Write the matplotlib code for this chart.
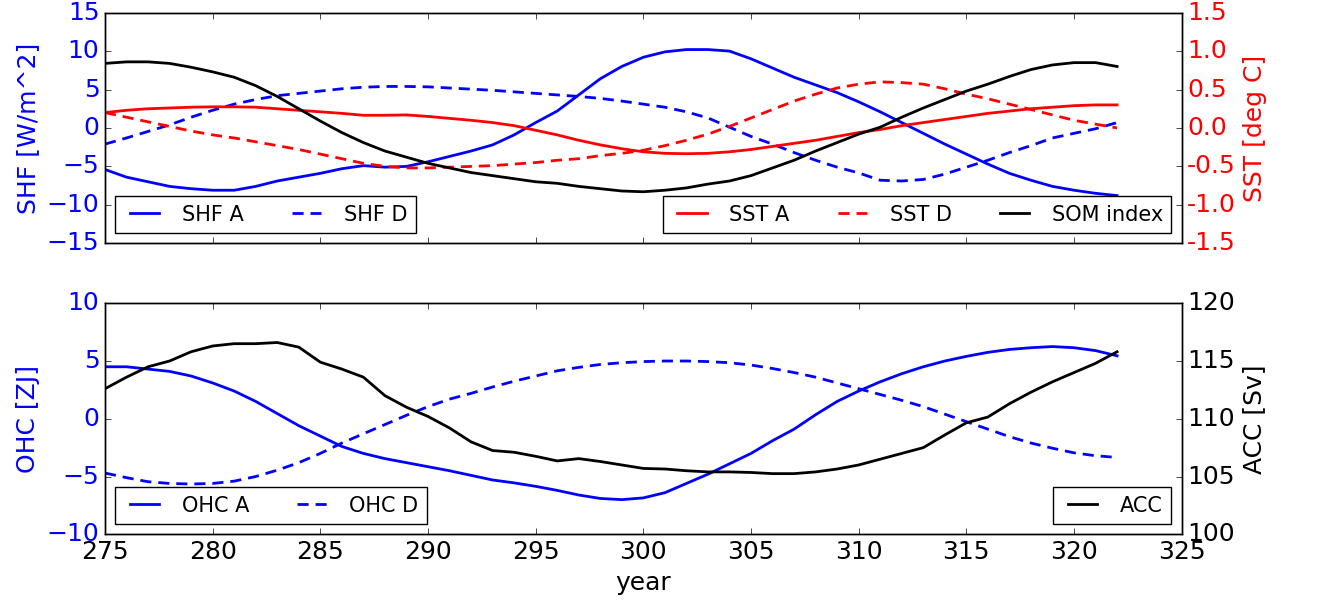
import numpy as np
import matplotlib
matplotlib.use('Agg')
from matplotlib import pyplot as plt

years = np.arange(275, 323)

# top panel: surface heat flux (left axis) and SST / SOM index (right axis)
shf_a = [-5.4, -6.4, -7.0, -7.6, -7.9, -8.1, -8.1, -7.6, -6.9, -6.4,
         -5.9, -5.3, -4.9, -5.1, -5.0, -4.4, -3.7, -3.0, -2.2, -0.9,
         0.7, 2.2, 4.3, 6.4, 8.0, 9.2, 9.9, 10.2, 10.2, 10.0,
         9.0, 7.8, 6.6, 5.6, 4.6, 3.4, 2.1, 0.7, -0.7, -2.1,
         -3.4, -4.7, -5.9, -6.8, -7.6, -8.1, -8.5, -8.8]
shf_d = [-2.1, -1.3, -0.45, 0.4, 1.4, 2.3, 3.1, 3.7, 4.2, 4.5,
         4.8, 5.1, 5.3, 5.4, 5.4, 5.35, 5.2, 5.05, 4.9, 4.7,
         4.5, 4.3, 4.1, 3.85, 3.5, 3.1, 2.7, 2.1, 1.3, 0.1,
         -1.1, -2.1, -3.2, -4.2, -5.1, -5.85, -6.8, -6.9, -6.7, -6.0,
         -5.1, -4.2, -3.2, -2.3, -1.3, -0.7, -0.1, 0.7]
sst_a = [0.20, 0.23, 0.25, 0.26, 0.27, 0.275, 0.275, 0.27, 0.25, 0.23,
         0.21, 0.19, 0.165, 0.165, 0.17, 0.15, 0.125, 0.10, 0.07, 0.03,
         -0.03, -0.09, -0.16, -0.22, -0.27, -0.31, -0.33, -0.335, -0.33, -0.31,
         -0.28, -0.24, -0.20, -0.16, -0.11, -0.06, -0.02, 0.03, 0.07, 0.11,
         0.15, 0.19, 0.22, 0.25, 0.27, 0.29, 0.30, 0.30]
sst_d = [0.20, 0.14, 0.08, 0.02, -0.04, -0.09, -0.13, -0.18, -0.23, -0.28,
         -0.34, -0.40, -0.46, -0.50, -0.52, -0.52, -0.51, -0.50, -0.49, -0.47,
         -0.45, -0.42, -0.40, -0.36, -0.33, -0.29, -0.23, -0.16, -0.08, 0.02,
         0.13, 0.24, 0.35, 0.44, 0.52, 0.57, 0.60, 0.59, 0.57, 0.51,
         0.44, 0.38, 0.31, 0.24, 0.17, 0.10, 0.05, 0.00]
som = [0.84, 0.86, 0.86, 0.84, 0.79, 0.73, 0.66, 0.55, 0.41, 0.25,
       0.09, -0.06, -0.19, -0.30, -0.38, -0.46, -0.52, -0.58, -0.62, -0.66,
       -0.70, -0.72, -0.76, -0.79, -0.82, -0.83, -0.81, -0.78, -0.73, -0.69,
       -0.62, -0.52, -0.42, -0.30, -0.19, -0.08, 0.01, 0.14, 0.26, 0.37,
       0.48, 0.57, 0.67, 0.76, 0.82, 0.85, 0.85, 0.80]

# bottom panel: ocean heat content (left axis) and ACC transport (right axis)
ohc_a = [4.5, 4.5, 4.3, 4.1, 3.7, 3.1, 2.4, 1.5, 0.45, -0.6,
         -1.5, -2.4, -3.0, -3.45, -3.8, -4.15, -4.5, -4.9, -5.3, -5.55,
         -5.85, -6.2, -6.6, -6.9, -7.0, -6.85, -6.4, -5.6, -4.8, -3.9,
         -3.0, -1.9, -0.9, 0.35, 1.5, 2.4, 3.2, 3.9, 4.5, 5.0,
         5.4, 5.75, 6.0, 6.15, 6.25, 6.15, 5.9, 5.45]
ohc_d = [-4.7, -5.1, -5.45, -5.6, -5.65, -5.6, -5.4, -5.0, -4.45, -3.8,
         -3.0, -2.1, -1.3, -0.5, 0.3, 1.05, 1.7, 2.2, 2.75, 3.25,
         3.7, 4.15, 4.45, 4.7, 4.85, 4.95, 5.0, 5.0, 4.95, 4.85,
         4.65, 4.35, 4.0, 3.6, 3.1, 2.6, 2.1, 1.6, 1.05, 0.4,
         -0.25, -0.9, -1.55, -2.1, -2.55, -2.95, -3.2, -3.35]
acc = [112.6, 113.6, 114.5, 115.0, 115.8, 116.3, 116.5, 116.5, 116.6, 116.2,
       114.9, 114.3, 113.6, 112.0, 111.0, 110.2, 109.2, 108.0, 107.25, 107.1,
       106.75, 106.35, 106.55, 106.3, 106.0, 105.7, 105.65, 105.5, 105.4, 105.4,
       105.35, 105.25, 105.25, 105.4, 105.65, 106.0, 106.5, 107.0, 107.5, 108.6,
       109.65, 110.15, 111.3, 112.3, 113.2, 114.0, 114.8, 115.8]

plt.style.use('classic')
plt.rcParams['font.family'] = ['DejaVu Sans']
plt.rcParams['lines.linewidth'] = 2
plt.rcParams['lines.dashed_pattern'] = [8, 5]
plt.rcParams['legend.fontsize'] = 15

fig = plt.figure(figsize=(13.19, 6.12), dpi=100, facecolor='w')
ax1 = fig.add_axes([0.0796, 0.6025, 0.8163, 0.3768])
ax2 = ax1.twinx()
ax3 = fig.add_axes([0.0796, 0.1270, 0.8163, 0.3775])
ax4 = ax3.twinx()

# top
l1, = ax1.plot(years, shf_a, 'b-', label='SHF A')
l2, = ax1.plot(years, shf_d, 'b--', label='SHF D')
l3, = ax2.plot(years, sst_a, 'r-', label='SST A')
l4, = ax2.plot(years, sst_d, 'r--', label='SST D')
l5, = ax2.plot(years, som, 'k-', label='SOM index')
ax1.set_xlim(275, 325)
ax1.set_xticks(np.arange(275, 326, 5))
ax1.set_ylim(-15, 15)
ax2.set_ylim(-1.5, 1.5)
ax1.set_yticks(np.arange(-15, 16, 5))
ax2.set_yticks(np.arange(-1.5, 1.6, 0.5))
ax2.yaxis.set_major_formatter(matplotlib.ticker.FormatStrFormatter('%.1f'))
ax1.set_xticklabels([])
ax1.set_ylabel('SHF [W/m^2]', color='b', fontsize=18)
ax2.set_ylabel('SST [deg C]', color='r', fontsize=18)
ax1.tick_params(axis='y', labelcolor='b', labelsize=18)
ax2.tick_params(axis='y', labelcolor='r', labelsize=18)
ax1.legend(handles=[l1, l2], loc='lower left', ncol=2)
ax2.legend(handles=[l3, l4, l5], loc='lower right', ncol=3)

# bottom
l6, = ax3.plot(years, ohc_a, 'b-', label='OHC A')
l7, = ax3.plot(years, ohc_d, 'b--', label='OHC D')
l8, = ax4.plot(years, acc, 'k-', label='ACC')
ax3.set_xlim(275, 325)
ax3.set_xticks(np.arange(275, 326, 5))
ax3.set_ylim(-10, 10)
ax4.set_ylim(100, 120)
ax3.set_yticks(np.arange(-10, 11, 5))
ax4.set_yticks(np.arange(100, 121, 5))
ax3.set_ylabel('OHC [ZJ]', color='b', fontsize=18)
ax4.set_ylabel('ACC [Sv]', color='k', fontsize=18)
ax3.set_xlabel('year', fontsize=18)
ax3.tick_params(axis='y', labelcolor='b', labelsize=18)
ax3.tick_params(axis='x', labelsize=18)
ax4.tick_params(axis='y', labelsize=18)
ax3.legend(handles=[l6, l7], loc='lower left', ncol=2)
ax4.legend(handles=[l8], loc='lower right')

fig.savefig('out.png', dpi=100, facecolor='w')
